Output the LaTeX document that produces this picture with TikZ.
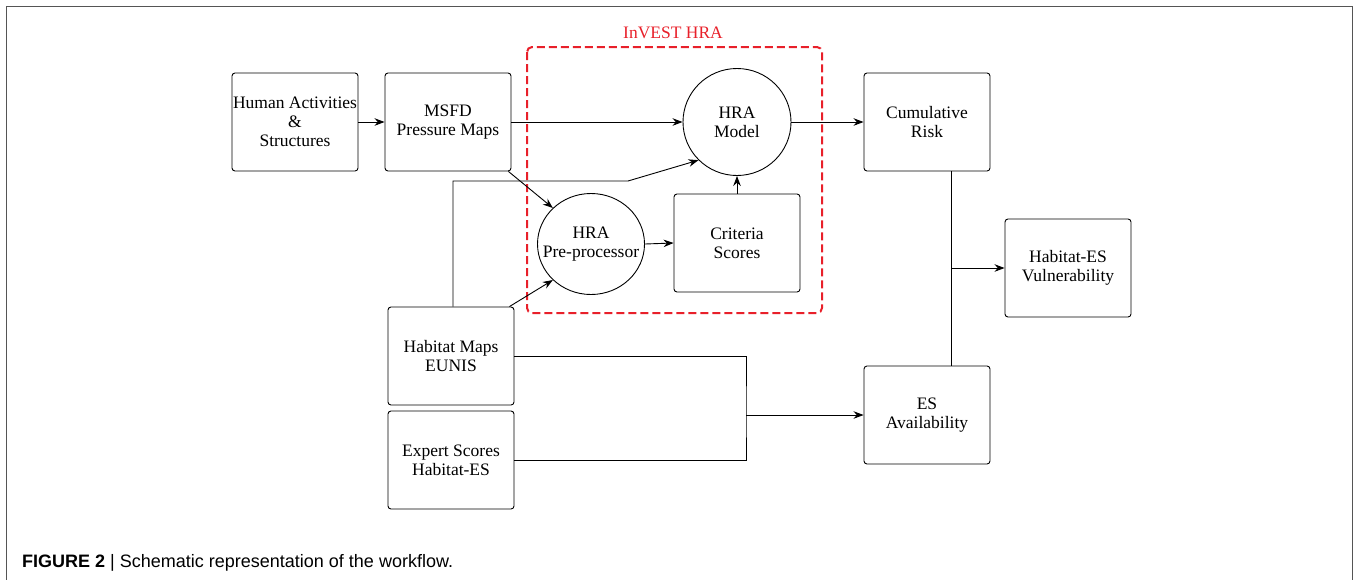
\documentclass[tikz,border=0pt]{standalone}
\usepackage{fontspec}
\setmainfont{Liberation Serif}
\newfontfamily\capfont{Liberation Sans}
\usetikzlibrary{arrows.meta,shapes.geometric,calc}
\definecolor{invred}{HTML}{E8202A}
\definecolor{framegray}{HTML}{555555}
\tikzset{
  txt/.style={font=\fontsize{17.5}{19}\selectfont},
  box/.style={draw, rounded corners=3pt, line width=0.9pt, minimum width=126pt, minimum height=98pt, inner sep=0pt, align=center, txt},
  circ/.style={draw, ellipse, line width=0.9pt, inner sep=0pt},
  ctext/.style={align=center, txt, inner sep=0pt},
  conn/.style={line width=0.9pt, -{Stealth[length=10pt,width=7.5pt]}},
  plain/.style={line width=0.9pt},
}
\begin{document}
\begin{tikzpicture}[x=1pt,y=-1pt]
\useasboundingbox (0,0) rectangle (1357,579);
\draw[framegray, line width=1pt] (6,590) -- (6,6) -- (1352,6) -- (1352,590);
% red group
\draw[invred, line width=2pt, dash pattern=on 8pt off 4pt, rounded corners=5pt] (527,47) rectangle (822,313);
\node[invred, txt] (lab) at (673,33) {InVEST HRA};
% nodes
\node[box] (ha) at (295,122) {Human Activities\\\&\\Structures};
\node[box] (msfd) at (448,122) {MSFD\\Pressure Maps};
\node[circ, minimum width=108pt, minimum height=107pt] (model) at (737,122) {};
\node[ctext] (modelt) at (model.center) {HRA\\Model};
\node[box] (cr) at (927,122) {Cumulative\\Risk};
\node[circ, minimum width=107pt, minimum height=101pt] (pre) at (591,244) {};
\node[ctext] (pret) at (pre.center) {HRA\\Pre-processor};
\node[box] (cs) at (737,243) {Criteria\\Scores};
\node[box] (vul) at (1068,268) {Habitat-ES\\Vulnerability};
\node[box] (hm) at (451,356) {Habitat Maps\\EUNIS};
\node[box] (es) at (451,460) {Expert Scores\\Habitat-ES};
\node[box] (esa) at (927,415) {ES\\Availability};
% connectors
\draw[conn] (ha.east) -- (msfd.west);
\draw[conn] (msfd.east) -- (model.west);
\draw[conn] (model.east) -- (cr.west);
\draw[conn] ($(msfd.south east)+(-3,0)$) -- (pre.north west);
\draw[conn] ($(hm.north east)+(-5,0)$) -- (pre.south west);
\coordinate (bend) at (628,181);
\draw[conn] ($(hm.north)+(2,0)$) |- (bend) -- (model.south west);
\draw[conn] (pre.east) -- (cs.west);
\draw[conn] (cs.north) -- (model.south);
\coordinate (j1) at (951,268);
\draw[plain] (cr.south -| j1) -- (esa.north -| j1);
\draw[conn] (j1) -- (vul.west);
\coordinate (j2) at (746,415);
\draw[plain] (hm.east) -| (j2) |- (es.east);
\draw[conn] (j2) -- (esa.west);
% caption
\node[anchor=base west, inner sep=0pt, font=\capfont\fontsize{18}{21}\selectfont] (cap) at (22,567) {\textbf{FIGURE 2} | Schematic representation of the workflow.};
\end{tikzpicture}
\end{document}
